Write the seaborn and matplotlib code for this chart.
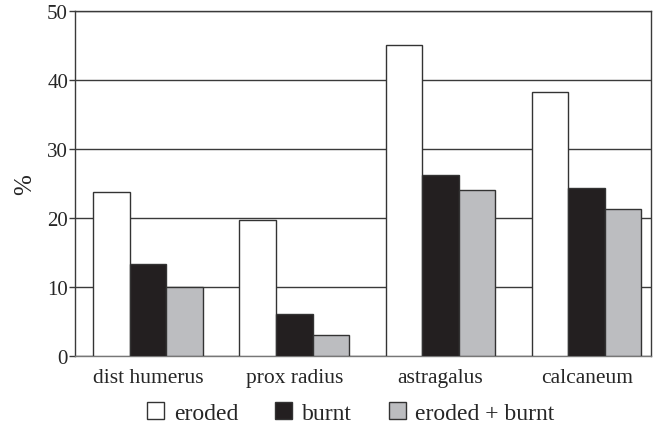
import matplotlib
matplotlib.use("Agg")
import matplotlib.pyplot as plt
import seaborn as sns
import pandas as pd
from matplotlib.patches import Patch

categories = ["dist humerus", "prox radius", "astragalus", "calcaneum"]
series = ["eroded", "burnt", "eroded + burnt"]
eroded = [23.7, 19.7, 45.1, 38.2]
burnt = [13.4, 6.1, 26.2, 24.3]
eroded_burnt = [10.0, 3.0, 24.1, 21.3]
yticks = [0, 10, 20, 30, 40, 50]

colors = ["#ffffff", "#231f20", "#bcbdc0"]
edge = "#333333"

rows = []
for name, vals in zip(series, [eroded, burnt, eroded_burnt]):
    for c, v in zip(categories, vals):
        rows.append({"cat": c, "series": name, "value": v})
df = pd.DataFrame(rows)

sns.set_style("white")
plt.rcParams["font.family"] = ["Liberation Serif", "DejaVu Serif"]

fig = plt.figure(figsize=(6.53, 4.27), dpi=100)
ax = fig.add_axes([75/653, 70/427, 576/653, 345/427])

sns.barplot(data=df, x="cat", y="value", hue="series", order=categories,
            hue_order=series, palette=colors, width=0.75, edgecolor=edge,
            linewidth=1.0, saturation=1, ax=ax, legend=False, zorder=3)

ax.set_ylim(0, 50)
ax.set_xlim(-0.5, 3.44)
ax.set_yticks(yticks)
ax.set_yticklabels([str(t) for t in yticks], fontsize=15)
ax.yaxis.grid(True, color="#3a3a3a", linewidth=1.0, zorder=0)
ax.set_axisbelow(True)
ax.tick_params(axis="y", which="major", direction="out", length=4, width=1,
               color="#3a3a3a", pad=1, left=True)
ax.tick_params(axis="x", length=0, labelsize=15.5, pad=9)
ax.set_xlabel("")
ax.set_ylabel("%", fontsize=18, labelpad=8)
for s in ax.spines.values():
    s.set_color("#3a3a3a")
    s.set_linewidth(1.0)
ax.spines["bottom"].set_color("#777777")

handles = [Patch(facecolor=c, edgecolor=edge, linewidth=1.0) for c in colors]
fig.legend(handles, series, loc="center", bbox_to_anchor=(351/653, 13/427),
           ncol=3, frameon=False, fontsize=17, handlelength=0.72, handleheight=0.72,
           columnspacing=1.55, handletextpad=0.42, borderpad=0.2)

fig.savefig("out.png", dpi=100)
